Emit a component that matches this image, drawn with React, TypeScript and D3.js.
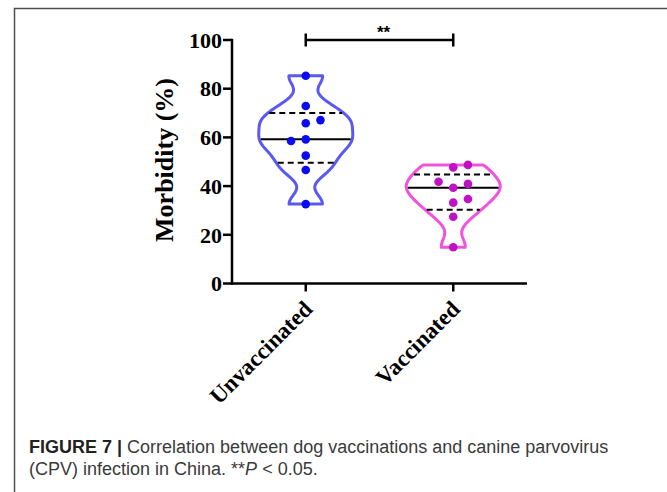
import React, { useEffect, useRef } from 'react';
import * as d3 from 'd3';

const groups = ['Unvaccinated', 'Vaccinated'];
// morbidity (%) per region
const unvaccinated = [85.3, 72.9, 65.8, 67.1, 59.2, 58.5, 52.5, 46.6, 32.6];
const vaccinated = [47.7, 48.7, 39.3, 40.9, 41.8, 33.2, 34.7, 27.4, 14.9];
const yTicks = [0, 20, 40, 60, 80, 100];
const sigLabel = '**';

const W = 667;
const H = 492;
const BANDWIDTH = 4.3;

// quartiles the way Prism does them (n+1 positions)
function quantile6(sorted: number[], p: number) {
  const pos = p * (sorted.length + 1) - 1;
  const lo = Math.max(0, Math.floor(pos));
  const hi = Math.min(sorted.length - 1, lo + 1);
  return sorted[lo] + (sorted[hi] - sorted[lo]) * (pos - lo);
}

function kde(values: number[], h: number) {
  return (x: number) =>
    d3.sum(values, v => Math.exp(-0.5 * ((x - v) / h) ** 2));
}

export default function App() {
  const svgRef = useRef<SVGSVGElement>(null);

  useEffect(() => {
    if (!svgRef.current) return;
    const svg = d3.select(svgRef.current);
    svg.selectAll('*').remove();

    const left = 232, right = 527, top = 40, bottom = 283.5;

    const x = d3.scalePoint<string>().domain(groups).range([left, right]).padding(0.5);
    const y = d3.scaleLinear().domain([0, 100]).range([bottom, top]);

    // figure frame (cut off on the right and bottom)
    svg.append('rect')
      .attr('x', 14.5).attr('y', 8.5)
      .attr('width', 800).attr('height', 700)
      .attr('fill', 'none')
      .attr('stroke', '#4d4d4d')
      .attr('stroke-width', 1.5);

    const serif = '"Liberation Serif", "Times New Roman", serif';

    const series = [
      { name: groups[0], values: unvaccinated, line: '#5a5af2', dot: '#0a0af5' },
      { name: groups[1], values: vaccinated, line: '#f252dc', dot: '#c211c4' },
    ];

    const maxHalf = 47;

    series.forEach(s => {
      const cx = x(s.name)!;
      const sorted = [...s.values].sort((a, b) => a - b);
      const lo = sorted[0];
      const hi = sorted[sorted.length - 1];
      const dens = kde(s.values, BANDWIDTH);
      const grid = d3.range(0, 81).map(i => lo + (hi - lo) * i / 80);
      const dmax = d3.max(grid, dens)!;
      const half = (v: number) => maxHalf * dens(v) / dmax;

      const area = d3.area<number>()
        .y(d => y(d))
        .x0(d => cx - half(d))
        .x1(d => cx + half(d))
        .curve(d3.curveLinear);

      svg.append('path')
        .datum(grid)
        .attr('d', area)
        .attr('fill', 'none')
        .attr('stroke', s.line)
        .attr('stroke-width', 3)
        .attr('stroke-linejoin', 'round');

      const q1 = quantile6(sorted, 0.25);
      const med = quantile6(sorted, 0.5);
      const q3 = quantile6(sorted, 0.75);

      [
        { v: q3, dash: '6,4' },
        { v: med, dash: null },
        { v: q1, dash: '6,4' },
      ].forEach(q => {
        const w = half(q.v) - 1.5;
        svg.append('line')
          .attr('x1', cx - w).attr('x2', cx + w)
          .attr('y1', y(q.v)).attr('y2', y(q.v))
          .attr('stroke', '#000')
          .attr('stroke-width', 2)
          .attr('stroke-dasharray', q.dash);
      });

      // simple scatter placement: shift a dot sideways when it would overlap
      const placed: { v: number; py: number; col: number }[] = [];
      const hits = (py: number, col: number) =>
        placed.filter(p => p.col === col && Math.abs(p.py - py) < 10);
      s.values.forEach(v => {
        const py = y(v);
        let col = 0;
        const c = hits(py, 0);
        if (c.length) {
          const pref = v > c[0].v ? 1 : -1;
          col = hits(py, pref).length ? -pref : pref;
        }
        placed.push({ v, py, col });
      });

      svg.append('g')
        .selectAll('circle')
        .data(placed)
        .join('circle')
        .attr('cx', d => cx + d.col * 14.7)
        .attr('cy', d => d.py)
        .attr('r', 4.3)
        .attr('fill', s.dot);
    });

    // y axis
    const yAxis = svg.append('g');
    yAxis.append('line')
      .attr('x1', left).attr('x2', left)
      .attr('y1', bottom + 1.2).attr('y2', top - 1.2)
      .attr('stroke', '#000').attr('stroke-width', 2.5);
    yTicks.forEach(t => {
      yAxis.append('line')
        .attr('x1', left - 9).attr('x2', left)
        .attr('y1', y(t)).attr('y2', y(t))
        .attr('stroke', '#000').attr('stroke-width', 2.5);
      yAxis.append('text')
        .attr('x', left - 10)
        .attr('y', y(t))
        .attr('dy', '0.35em')
        .attr('text-anchor', 'end')
        .attr('font-family', serif)
        .attr('font-weight', 'bold')
        .attr('font-size', 22)
        .text(t);
    });

    svg.append('text')
      .attr('transform', `translate(173, 160) rotate(-90)`)
      .attr('text-anchor', 'middle')
      .attr('font-family', serif)
      .attr('font-weight', 'bold')
      .attr('font-size', 26)
      .text('Morbidity (%)');

    // x axis
    const xAxis = svg.append('g');
    xAxis.append('line')
      .attr('x1', left - 1.2).attr('x2', right)
      .attr('y1', bottom).attr('y2', bottom)
      .attr('stroke', '#000').attr('stroke-width', 2.5);
    groups.forEach(g => {
      const gx = x(g)!;
      xAxis.append('line')
        .attr('x1', gx).attr('x2', gx)
        .attr('y1', bottom).attr('y2', bottom + 8)
        .attr('stroke', '#000').attr('stroke-width', 2.5);
      xAxis.append('text')
        .attr('transform', `translate(${gx + 8}, ${bottom + 27}) rotate(-45)`)
        .attr('text-anchor', 'end')
        .attr('font-family', serif)
        .attr('font-weight', 'bold')
        .attr('font-size', 23)
        .text(g);
    });

    // significance bracket
    const sy = y(100);
    const x1 = x(groups[0])!, x2 = x(groups[1])!;
    const sig = svg.append('g').attr('stroke', '#000').attr('stroke-width', 2.5);
    sig.append('line').attr('x1', x1).attr('x2', x2).attr('y1', sy).attr('y2', sy);
    sig.append('line').attr('x1', x1).attr('x2', x1).attr('y1', sy - 6.5).attr('y2', sy + 6.5);
    sig.append('line').attr('x1', x2).attr('x2', x2).attr('y1', sy - 6.5).attr('y2', sy + 6.5);
    svg.append('text')
      .attr('x', (x1 + x2) / 2 + 4)
      .attr('y', sy - 2)
      .attr('text-anchor', 'middle')
      .attr('font-family', '"Liberation Sans", Arial, sans-serif')
      .attr('font-weight', 'bold')
      .attr('font-size', 17)
      .text(sigLabel);

    // caption
    const sans = '"Liberation Sans", Arial, sans-serif';
    const cap1 = svg.append('text')
      .attr('x', 29).attr('y', 453)
      .attr('font-family', sans)
      .attr('font-size', 18)
      .attr('fill', '#3a3a3a');
    cap1.append('tspan').attr('font-weight', 'bold').attr('fill', '#222').text('FIGURE 7 |');
    cap1.append('tspan').text(' Correlation between dog vaccinations and canine parvovirus');

    const cap2 = svg.append('text')
      .attr('x', 29).attr('y', 475)
      .attr('font-family', sans)
      .attr('font-size', 18)
      .attr('fill', '#3a3a3a');
    cap2.append('tspan').text('(CPV) infection in China. **');
    cap2.append('tspan').attr('font-style', 'italic').text('P');
    cap2.append('tspan').text(' < 0.05.');
  }, []);

  return (
    <svg
      ref={svgRef}
      width={W}
      height={H}
      style={{ position: 'absolute', left: 0, top: 0, background: '#fff' }}
    />
  );
}
